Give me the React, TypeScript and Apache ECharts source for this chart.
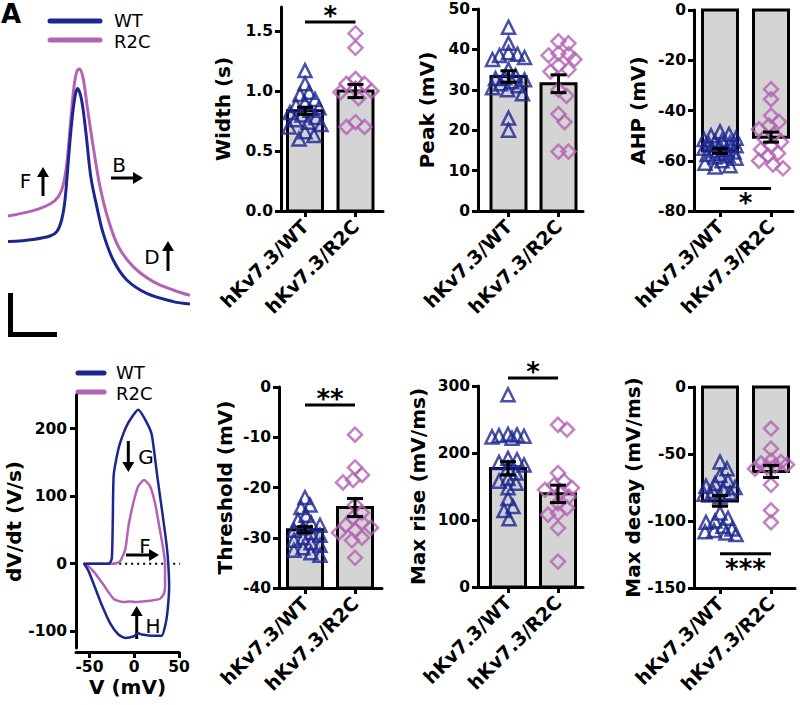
import React, { useEffect, useRef } from 'react';
import * as echarts from 'echarts';

// ---------- data ----------
const groups = ['hKv7.3/WT', 'hKv7.3/R2C'];
const WT_COLOR = '#1c2590';
const R2C_COLOR = '#b462b4';
const FONT = 'DejaVu Sans';

// Action potential traces (time ms, membrane potential mV)
const apTimeWT = [0, 6.3, 10.5, 12.2, 13.4, 14.25, 15.1, 15.9, 16.75, 17.4, 18.4, 19.5, 20.7, 22.2, 23.8, 26.3, 29.7, 34.7, 41.3, 45.5];
const apVoltWT = [-40.8, -39.7, -38, -35.8, -30, -20, 0, 18.3, 31.7, 35.8, 30, 13.3, -8.3, -23.3, -36.7, -50, -60, -66.7, -70.8, -72];
const apTimeR2C = [0, 6.3, 10.5, 12.6, 13.8, 14.7, 15.7, 16.5, 17.2, 17.8, 18.7, 19.8, 21.3, 23, 25.1, 27.6, 31.3, 36.3, 41.3, 45.5];
const apVoltR2C = [-28, -25.3, -22, -18.3, -12.5, -1.7, 20, 36.7, 44.2, 45.5, 41.7, 26.7, 6.7, -13.3, -30, -43.3, -53.3, -60.8, -65, -67.7];

// Phase plots (V in mV, dV/dt in V/s)
const phaseVWT = [-56, -45, -35, -28, -25, -24, -23, -20, -16, -7, 4.6, 14, 19.6, 25.8, 32.5, 36.3, 38, 39, 37, 34.4, 30.7, 22, 8.4, 4.6, -1, -10, -17.7, -27, -36.3, -45.6, -51, -56];
const phaseDWT = [0, 0, 0, 0, 8, 60, 130, 155, 178, 208, 228, 209, 191, 129, 65, 26, 0, -34, -73, -93, -107, -107, -105, -103, -108, -110, -105, -88, -61, -29, -11, 0];
const phaseVR2C = [-56, -45, -35, -23, -16, -10, -6.5, -1, 4.6, 11, 17.6, 23.2, 28, 32.5, 34.4, 34.4, 33, 28.8, 17.6, 8.4, 2, -4.7, -12, -23, -34.5, -43.8, -51, -56];
const phaseDR2C = [0, 0, 0, 0, 3, 21, 55, 90, 115, 124, 115, 90, 55, 21, 0, -34, -45, -52, -55, -56, -57, -56, -57, -52, -31, -14, -4, 0];
const zeroLineV = [-57, 56];
const phaseXTicks = [-50, 0, 50];
const phaseYTicks = [-100, 0, 100, 200];

// Bar-panel data
const widthWT = [1.17, 1.06, 0.99, 0.97, 0.93, 0.9, 0.88, 0.86, 0.84, 0.82, 0.8, 0.78, 0.76, 0.74, 0.72, 0.7, 0.66, 0.63, 0.6];
const widthR2C = [1.48, 1.36, 1.1, 1.06, 1.06, 1.02, 1.0, 0.99, 0.94, 0.74, 0.7, 0.7];
const widthMeans = [0.835, 1.0];
const widthSems = [0.03, 0.055];
const widthTicks = [0, 0.5, 1.0, 1.5];

const peakWT = [45.5, 41.5, 39.2, 38.8, 38.5, 38, 37.5, 35, 33.5, 33, 32.8, 32.5, 32, 31.5, 31, 30.5, 30, 29, 23, 20];
const peakR2C = [42, 41.5, 39, 38.8, 38.5, 37.5, 36, 35, 34.5, 30, 28.5, 24, 22, 14.7, 14.7];
const peakMeans = [33.3, 31.5];
const peakSems = [1.4, 2.2];
const peakTicks = [0, 10, 20, 30, 40, 50];

const ahpWT = [-48.5, -49.5, -50, -51, -51.5, -52, -52.5, -53, -53.5, -54, -54.5, -55, -55.5, -56, -56.5, -57, -57.5, -58, -58.5, -59, -60, -61, -62, -62.5];
const ahpR2C = [-31.5, -35.5, -42, -44.5, -46, -47.5, -49.5, -51, -52.5, -54, -55.5, -57, -58, -60, -61.5, -63];
const ahpMeans = [-56.1, -50.6];
const ahpSems = [1.0, 2.0];
const ahpTicks = [-80, -60, -40, -20, 0];

const thrWT = [-22, -23.5, -24, -25.5, -26.5, -27, -27.5, -28, -28.5, -29, -29.5, -30, -30.5, -31, -31.5, -32, -32.5, -33, -33.5];
const thrR2C = [-9.5, -16, -17.5, -18.5, -19, -23.5, -25, -26, -27, -27.5, -28, -28.5, -29, -30, -30.5, -34];
const thrMeans = [-28.4, -24.0];
const thrSems = [0.6, 1.8];
const thrTicks = [-40, -30, -20, -10, 0];

const riseWT = [287, 228, 227, 226, 225, 224, 222, 192, 190, 186, 182, 178, 170, 162, 158, 155, 148, 132, 120, 114, 102];
const riseR2C = [242, 235, 170, 158, 152, 148, 145, 140, 135, 125, 118, 110, 108, 88, 38];
const riseMeans = [177, 139];
const riseSems = [10, 13];
const riseTicks = [0, 100, 200, 300];

const decayWT = [-56, -61, -66, -70, -72, -74, -75, -76, -78, -79, -80, -82, -94, -98, -100, -101, -104, -106, -107, -108, -109, -110];
const decayR2C = [-31, -46, -55, -56, -57, -58, -59, -60, -61, -73, -92, -101];
const decayMeans = [-85, -63];
const decaySems = [4, 4.5];
const decayTicks = [-150, -100, -50, 0];

// bar baselines per panel (Width, Peak, AHP, Threshold, Max rise, Max decay)
const barBases = [0, 0, 0, -40, 0, 0];
// significance: level of the bracket line and label
const sigLevels = [1.575, 31.8, -71, -3.6, 312, -124.5];
const sigLabels = ['*', '', '*', '**', '*', '***'];

// ---------- layout ----------
type Layout = { left: number; right: number; top: number; bottom: number; c1: number; c2: number; nameGap: number; sigBelow: boolean; showSig: boolean };
type Panel = { name: string; wt: number[]; r2c: number[]; means: number[]; sems: number[]; min: number; max: number; ticks: number[]; dec: number };

const panels: Panel[] = [
  { name: 'Width (s)', wt: widthWT, r2c: widthR2C, means: widthMeans, sems: widthSems, min: 0, max: 1.7, ticks: widthTicks, dec: 1 },
  { name: 'Peak (mV)', wt: peakWT, r2c: peakR2C, means: peakMeans, sems: peakSems, min: 0, max: 50, ticks: peakTicks, dec: 0 },
  { name: 'AHP (mV)', wt: ahpWT, r2c: ahpR2C, means: ahpMeans, sems: ahpSems, min: -80, max: 0, ticks: ahpTicks, dec: 0 },
  { name: 'Threshold (mV)', wt: thrWT, r2c: thrR2C, means: thrMeans, sems: thrSems, min: -40, max: 0, ticks: thrTicks, dec: 0 },
  { name: 'Max rise (mV/ms)', wt: riseWT, r2c: riseR2C, means: riseMeans, sems: riseSems, min: 0, max: 300, ticks: riseTicks, dec: 0 },
  { name: 'Max decay (mV/ms)', wt: decayWT, r2c: decayR2C, means: decayMeans, sems: decaySems, min: -150, max: 0, ticks: decayTicks, dec: 0 },
];

const layouts: Layout[] = [
  { left: 281, right: 383, top: 7, bottom: 211, c1: 305, c2: 355.5, nameGap: 48, sigBelow: false, showSig: true },
  { left: 478, right: 583, top: 9, bottom: 211, c1: 508.5, c2: 558.5, nameGap: 41, sigBelow: false, showSig: false },
  { left: 694, right: 793, top: 10, bottom: 211, c1: 720, c2: 771, nameGap: 46, sigBelow: true, showSig: true },
  { left: 279, right: 382, top: 387, bottom: 588, c1: 305, c2: 355, nameGap: 44, sigBelow: false, showSig: true },
  { left: 478, right: 583, top: 386, bottom: 587, c1: 508, c2: 558, nameGap: 50, sigBelow: false, showSig: true },
  { left: 694, right: 795, top: 387, bottom: 588, c1: 720, c2: 771, nameGap: 51, sigBelow: true, showSig: true },
];

function swarm(vals: number[], center: number, pyu: number, pxu: number, d: number, maxHalf: number): number[][] {
  const idx = vals.map((_, i) => i).sort((a, b) => vals[b] - vals[a]);
  const placed: [number, number][] = [];
  const res: number[][] = [];
  for (const i of idx) {
    const y = vals[i] * pyu;
    let bestOff = 0;
    let bestScore = -Infinity;
    for (let k = 0; k <= 2 * maxHalf; k++) {
      const off = (k % 2 === 1 ? 1 : -1) * Math.ceil(k / 2);
      let minD = Infinity;
      for (const [px, py] of placed) {
        const dd = Math.hypot(px - off, py - y);
        if (dd < minD) minD = dd;
      }
      if (minD >= d) { bestOff = off; bestScore = Infinity; break; }
      if (minD > bestScore) { bestScore = minD; bestOff = off; }
    }
    placed.push([bestOff, y]);
    res.push([center + bestOff / pxu, vals[i]]);
  }
  return res;
}

const axisLineStyle = { color: '#000', width: 3 };
const tickFont = { fontFamily: FONT, fontWeight: 'bold' as const, fontSize: 15.5, color: '#000' };

function arrow(x1: number, y1: number, x2: number, y2: number) {
  const dx = x2 - x1, dy = y2 - y1;
  const len = Math.hypot(dx, dy);
  const ux = dx / len, uy = dy / len;
  const hl = 10, hw = 6;
  const bx = x2 - ux * hl, by = y2 - uy * hl;
  return {
    type: 'group',
    children: [
      { type: 'line', shape: { x1, y1, x2: bx + ux * 1, y2: by + uy * 1 }, style: { stroke: '#000', lineWidth: 3 } },
      { type: 'polygon', shape: { points: [[x2, y2], [bx - uy * hw, by + ux * hw], [bx + uy * hw, by - ux * hw]] }, style: { fill: '#000' } },
    ],
  };
}

function label(text: string, x: number, y: number, size = 20, align = 'center') {
  return { type: 'text', x, y, style: { text, fontFamily: FONT, fontSize: size, fill: '#000', align, verticalAlign: 'middle' } };
}

function buildOption() {
  const grid: any[] = [];
  const xAxis: any[] = [];
  const yAxis: any[] = [];
  const series: any[] = [];

  // Trace panel (grid 0)
  grid.push({ left: 8, top: 60, width: 184, height: 250, containLabel: false, outerBoundsMode: 'none' });
  xAxis.push({ type: 'value', gridIndex: 0, min: 0, max: 46, show: false });
  yAxis.push({ type: 'value', gridIndex: 0, min: -75, max: 50, show: false });
  series.push(
    { type: 'line', xAxisIndex: 0, yAxisIndex: 0, data: apTimeWT.map((t, i) => [t, apVoltWT[i]]), showSymbol: false, symbol: 'none', smooth: 0.35, lineStyle: { color: WT_COLOR, width: 3 }, z: 3 },
    { type: 'line', xAxisIndex: 0, yAxisIndex: 0, data: apTimeR2C.map((t, i) => [t, apVoltR2C[i]]), showSymbol: false, symbol: 'none', smooth: 0.35, lineStyle: { color: R2C_COLOR, width: 3 }, z: 2 },
  );

  // Phase plot (grid 1)
  grid.push({ left: 76, top: 395, width: 103, height: 253, containLabel: false, outerBoundsMode: 'none' });
  xAxis.push({
    type: 'value', gridIndex: 1, min: -65, max: 50, offset: 4,
    name: 'V (mV)', nameLocation: 'middle', nameGap: 25,
    nameTextStyle: { fontFamily: FONT, fontWeight: 'bold', fontSize: 20, color: '#000' },
    axisLine: { show: true, onZero: false, lineStyle: axisLineStyle },
    axisTick: { show: true, customValues: phaseXTicks, length: 6, lineStyle: axisLineStyle },
    axisLabel: { customValues: phaseXTicks, margin: 7, ...tickFont },
    splitLine: { show: false },
  });
  yAxis.push({
    type: 'value', gridIndex: 1, min: -125, max: 250,
    name: 'dV/dt (V/s)', nameLocation: 'middle', nameGap: 44, nameRotate: 90,
    nameTextStyle: { fontFamily: FONT, fontWeight: 'bold', fontSize: 20, color: '#000' },
    axisLine: { show: true, onZero: false, lineStyle: axisLineStyle },
    axisTick: { show: true, customValues: phaseYTicks, length: 6, lineStyle: axisLineStyle },
    axisLabel: { customValues: phaseYTicks, margin: 9, ...tickFont },
    splitLine: { show: false },
  });
  series.push(
    { type: 'line', xAxisIndex: 1, yAxisIndex: 1, data: zeroLineV.map((v) => [v, 0]), showSymbol: false, symbol: 'none', clip: false, lineStyle: { color: '#000', width: 2, type: [2, 4] }, z: 1 },
    { type: 'line', xAxisIndex: 1, yAxisIndex: 1, data: phaseVWT.map((v, i) => [v, phaseDWT[i]]), showSymbol: false, symbol: 'none', smooth: 0.2, lineStyle: { color: WT_COLOR, width: 2.5 }, z: 3 },
    { type: 'line', xAxisIndex: 1, yAxisIndex: 1, data: phaseVR2C.map((v, i) => [v, phaseDR2C[i]]), showSymbol: false, symbol: 'none', smooth: 0.2, lineStyle: { color: R2C_COLOR, width: 2.5 }, z: 2 },
  );

  // Bar panels
  panels.forEach((p, k) => {
    const L = layouts[k];
    const gi = k + 2;
    const unit = L.c2 - L.c1;
    const xmin = 1 - (L.c1 - L.left) / unit;
    const xmax = 2 + (L.right - L.c2) / unit;
    const h = L.bottom - L.top;
    const pyu = h / (p.max - p.min);
    grid.push({ left: L.left, top: L.top, width: L.right - L.left, height: h, containLabel: false, outerBoundsMode: 'none' });
    xAxis.push({
      type: 'value', gridIndex: gi, min: xmin, max: xmax,
      axisLine: { show: true, onZero: false, lineStyle: axisLineStyle },
      axisTick: { show: true, customValues: [1, 2], length: 6, lineStyle: axisLineStyle },
      axisLabel: {
        customValues: [1, 2], rotate: 45, margin: 12,
        formatter: (v: number) => groups[Math.round(v) - 1] ?? '',
        fontFamily: FONT, fontWeight: 'bold', fontSize: 19, color: '#000',
      },
      splitLine: { show: false },
    });
    yAxis.push({
      type: 'value', gridIndex: gi, min: p.min, max: p.max,
      name: p.name, nameLocation: 'middle', nameGap: L.nameGap, nameRotate: 90,
      nameTextStyle: { fontFamily: FONT, fontWeight: 'bold', fontSize: 20, color: '#000' },
      axisLine: { show: true, onZero: false, lineStyle: axisLineStyle },
      axisTick: { show: true, customValues: p.ticks, length: 6, lineStyle: axisLineStyle },
      axisLabel: { customValues: p.ticks, margin: 8, formatter: (v: number) => v.toFixed(p.dec), ...tickFont },
      splitLine: { show: false },
    });
    // bars (mean), drawn from the panel's baseline through the axes' scales
    series.push({
      type: 'custom', xAxisIndex: gi, yAxisIndex: gi, z: 2, silent: true,
      data: p.means.map((m, i) => [i + 1, m, barBases[k]]),
      encode: { x: 0, y: 1 },
      renderItem: (_params: any, api: any) => {
        const x = api.value(0), m = api.value(1), base = api.value(2);
        const a = api.coord([x, m]);
        const b = api.coord([x, base]);
        const w = 35;
        return {
          type: 'rect',
          shape: { x: a[0] - w / 2, y: Math.min(a[1], b[1]), width: w, height: Math.abs(b[1] - a[1]) },
          style: { fill: '#d4d4d4', stroke: '#000', lineWidth: 3 },
        };
      },
    });
    series.push({
      type: 'scatter', xAxisIndex: gi, yAxisIndex: gi, symbol: 'triangle', symbolSize: 13,
      data: swarm(p.wt, 1, pyu, unit, 9, 16),
      itemStyle: { color: 'rgba(0,0,0,0)', borderColor: WT_COLOR, borderWidth: 2.5 },
      silent: true, z: 3,
    });
    series.push({
      type: 'scatter', xAxisIndex: gi, yAxisIndex: gi, symbol: 'diamond', symbolSize: 14,
      data: swarm(p.r2c, 2, pyu, unit, 10, 16),
      itemStyle: { color: 'rgba(0,0,0,0)', borderColor: R2C_COLOR, borderWidth: 2.5 },
      silent: true, z: 3,
    });
    series.push({
      type: 'custom', xAxisIndex: gi, yAxisIndex: gi, z: 4, silent: true,
      data: p.means.map((m, i) => [i + 1, m, p.sems[i]]),
      encode: { x: 0, y: 1 },
      renderItem: (_params: any, api: any) => {
        const x = api.value(0), m = api.value(1), s = api.value(2);
        const a = api.coord([x, m + s]);
        const b = api.coord([x, m - s]);
        const hw = 8;
        const st = { stroke: '#000', lineWidth: 3 };
        return {
          type: 'group',
          children: [
            { type: 'line', shape: { x1: a[0], y1: a[1], x2: b[0], y2: b[1] }, style: st },
            { type: 'line', shape: { x1: a[0] - hw, y1: a[1], x2: a[0] + hw, y2: a[1] }, style: st },
            { type: 'line', shape: { x1: b[0] - hw, y1: b[1], x2: b[0] + hw, y2: b[1] }, style: st },
          ],
        };
      },
    });
    if (L.showSig) {
      series.push({
        type: 'custom', xAxisIndex: gi, yAxisIndex: gi, z: 4, silent: true, clip: false,
        data: [[1, 2, sigLevels[k]]],
        encode: { x: [0, 1], y: 2 },
        renderItem: (_params: any, api: any) => {
          const a = api.coord([api.value(0), api.value(2)]);
          const b = api.coord([api.value(1), api.value(2)]);
          const ty = L.sigBelow ? a[1] + 15 : a[1] - 6;
          return {
            type: 'group',
            children: [
              { type: 'line', shape: { x1: a[0], y1: a[1], x2: b[0], y2: b[1] }, style: { stroke: '#000', lineWidth: 3 } },
              { type: 'text', x: (a[0] + b[0]) / 2, y: ty, style: { text: sigLabels[k], fontFamily: FONT, fontWeight: 'bold', fontSize: 26, lineHeight: 16, fill: '#000', align: 'center', verticalAlign: 'middle' } },
            ],
          };
        },
      });
    }
  });

  const graphic: any[] = [
    { type: 'text', x: 1, y: 1, style: { text: 'A', fontFamily: FONT, fontWeight: 'bold', fontSize: 26, fill: '#000', align: 'left', verticalAlign: 'top' } },
    // top legend
    { type: 'line', shape: { x1: 50, y1: 21, x2: 100, y2: 21 }, style: { stroke: WT_COLOR, lineWidth: 5, lineCap: 'round' } },
    { type: 'line', shape: { x1: 50, y1: 40, x2: 100, y2: 40 }, style: { stroke: R2C_COLOR, lineWidth: 5, lineCap: 'round' } },
    label('WT', 114, 20, 18, 'left'),
    label('R2C', 114, 41, 18, 'left'),
    // top annotations
    arrow(43, 196, 43, 167), label('F', 25.5, 181),
    arrow(111, 178, 143, 178), label('B', 119, 164.5),
    arrow(168, 271, 168, 241), label('D', 152, 257),
    // scale bar
    { type: 'line', shape: { x1: 10.5, y1: 293, x2: 10.5, y2: 337 }, style: { stroke: '#000', lineWidth: 5 } },
    { type: 'line', shape: { x1: 8, y1: 334.5, x2: 57, y2: 334.5 }, style: { stroke: '#000', lineWidth: 5 } },
    // phase legend
    { type: 'line', shape: { x1: 78, y1: 373, x2: 104, y2: 373 }, style: { stroke: WT_COLOR, lineWidth: 5, lineCap: 'round' } },
    { type: 'line', shape: { x1: 78, y1: 392, x2: 104, y2: 392 }, style: { stroke: R2C_COLOR, lineWidth: 5, lineCap: 'round' } },
    label('WT', 116, 372.5, 18, 'left'),
    label('R2C', 116, 393.5, 18, 'left'),
    // phase annotations
    arrow(128.3, 441, 128.3, 472), label('G', 146, 456.5),
    arrow(126, 555, 159, 555), label('F', 145, 545.5),
    arrow(136.7, 639, 136.7, 606), label('H', 153, 625.5),
  ];

  return { animation: false, backgroundColor: '#fff', grid, xAxis, yAxis, series, graphic };
}

export default function App() {
  const ref = useRef<HTMLDivElement>(null);
  useEffect(() => {
    if (!ref.current) return;
    const chart = echarts.init(ref.current, null, { renderer: 'svg' });
    chart.setOption(buildOption() as any);
    return () => chart.dispose();
  }, []);
  return <div ref={ref} style={{ position: 'absolute', left: 0, top: 0, width: 800, height: 705, background: '#fff' }} />;
}
